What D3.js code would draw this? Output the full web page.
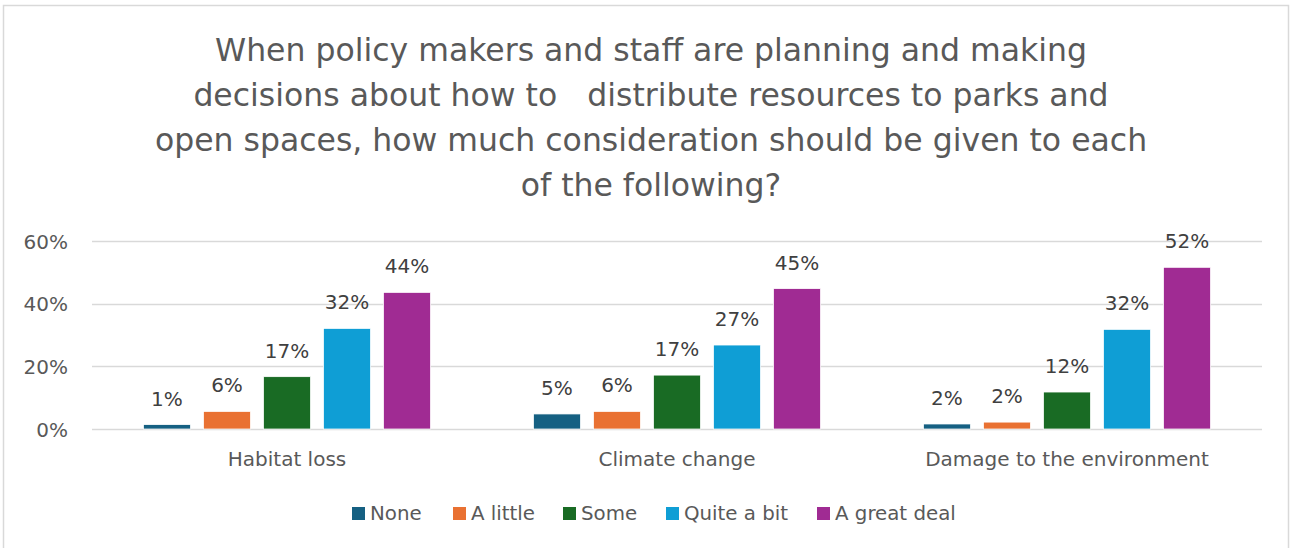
<!DOCTYPE html>
<html><head><meta charset="utf-8">
<script src="https://cdn.jsdelivr.net/npm/d3@7"></script>
<style>
html,body{margin:0;padding:0;background:#fff;}
svg{display:block;font-family:"DejaVu Sans",sans-serif;}
</style></head>
<body><svg id="chart" width="1291" height="548"></svg>
<script>
const titleLines = [
  "When policy makers and staff are planning and making",
  "decisions about how to   distribute resources to parks and",
  "open spaces, how much consideration should be given to each",
  "of the following?"
];
const categories = ["Habitat loss", "Climate change", "Damage to the environment"];
const series = ["None", "A little", "Some", "Quite a bit", "A great deal"];
const colors = ["#156082", "#E97132", "#196B24", "#0F9ED5", "#A02B93"];
const noneVals       = [0.014, 0.048, 0.016];
const aLittleVals    = [0.056, 0.056, 0.022];
const someVals       = [0.167, 0.172, 0.118];
const quiteABitVals  = [0.321, 0.268, 0.318];
const greatDealVals  = [0.436, 0.448, 0.516];
const yTicks = [0, 0.2, 0.4, 0.6];

const seriesVals = [noneVals, aLittleVals, someVals, quiteABitVals, greatDealVals];
const svg = d3.select("#chart");
const FONT = "DejaVu Sans, sans-serif";
const plot = {left: 92, right: 1262, top: 241, bottom: 429};

// chart border
svg.append("rect").attr("x", 3.5).attr("y", 5.5).attr("width", 1285).attr("height", 600)
  .attr("fill", "#fff").attr("stroke", "#d9d9d9").attr("stroke-width", 1.5);

// title
const title = svg.append("text").attr("text-anchor", "middle").attr("fill", "#595959")
  .attr("font-size", 31.5).style("white-space", "pre");
titleLines.forEach((t, i) => {
  title.append("tspan").attr("x", 651).attr("y", 61 + i * 45).text(t);
});

const x0 = d3.scaleBand().domain(categories).range([plot.left, plot.right]).padding(0);
const x1 = d3.scaleBand().domain(series).range([0, x0.bandwidth()])
  .paddingInner(13 / 60).paddingOuter(0.858);
const y = d3.scaleLinear().domain([0, 0.6]).range([plot.bottom, plot.top]);

// gridlines
svg.append("g").selectAll("line").data(yTicks).join("line")
  .attr("x1", plot.left).attr("x2", plot.right)
  .attr("y1", d => Math.round(y(d)) + 0.5).attr("y2", d => Math.round(y(d)) + 0.5)
  .attr("stroke", "#d9d9d9").attr("stroke-width", 1.5);

// y axis labels
const yAxis = d3.axisLeft(y).tickValues(yTicks).tickFormat(d3.format(".0%")).tickSize(0).tickPadding(0);
const yg = svg.append("g").attr("transform", `translate(68,0)`).call(yAxis);
yg.select(".domain").remove();
yg.selectAll("text").attr("fill", "#595959").attr("font-size", 20)
  .attr("font-family", FONT).attr("dy", "0.35em");

// bars
const groups = svg.append("g").selectAll("g").data(categories).join("g")
  .attr("transform", d => `translate(${x0(d)},0)`);
const fmt = d3.format(".0%");
groups.each(function(cat, ci) {
  const g = d3.select(this);
  const data = series.map((s, si) => ({s, si, v: seriesVals[si][ci]}));
  g.selectAll("rect").data(data).join("rect")
    .attr("x", d => x1(d.s)).attr("width", x1.bandwidth())
    .attr("y", d => y(d.v)).attr("height", d => y(0) - y(d.v))
    .attr("fill", d => colors[d.si]).attr("stroke", "#fff").attr("stroke-width", 0.75);
  g.selectAll("text").data(data).join("text")
    .attr("x", d => x1(d.s) + x1.bandwidth() / 2).attr("y", d => y(d.v) - 19)
    .attr("text-anchor", "middle").attr("fill", "#404040").attr("font-size", 20)
    .text(d => fmt(d.v));
});

// x axis category labels
const xAxis = d3.axisBottom(x0).tickSize(0).tickPadding(0);
const xg = svg.append("g").attr("transform", `translate(0,466)`).call(xAxis);
xg.select(".domain").remove();
xg.selectAll("text").attr("fill", "#595959").attr("font-size", 20)
  .attr("font-family", FONT).attr("dy", 0);

// legend
const legendX = [352, 453, 563, 666, 817];
const lg = svg.append("g").selectAll("g").data(series).join("g")
  .attr("transform", (d, i) => `translate(${legendX[i]},0)`);
lg.append("rect").attr("x", 0).attr("y", 507).attr("width", 13).attr("height", 13)
  .attr("fill", (d, i) => colors[i]);
lg.append("text").attr("x", 18).attr("y", 520).attr("fill", "#595959").attr("font-size", 19.8)
  .text(d => d);
</script></body></html>
